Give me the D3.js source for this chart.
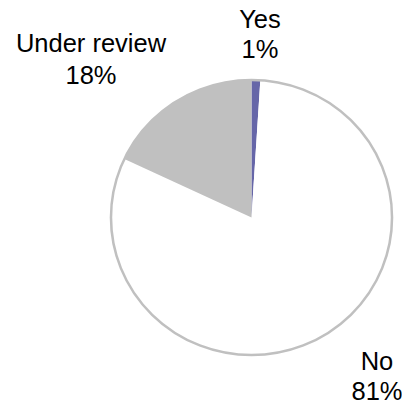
<!DOCTYPE html>
<html>
<head>
<meta charset="utf-8">
<script src="https://cdn.jsdelivr.net/npm/d3@7"></script>
<style>
  html, body { margin: 0; padding: 0; background: #fff; }
  svg { display: block; }
  text { font-family: "Liberation Sans", Arial, sans-serif; fill: #000; }
</style>
</head>
<body>
<svg id="chart" width="402" height="404"></svg>
<script>
// Responses, in drawing order clockwise from 12 o'clock
const categories = ["Yes", "No", "Under review"];
const shares = [1, 81, 18];
const sliceColors = ["#6666a8", "#ffffff", "#c0c0c0"];
const labelText = ["1%", "81%", "18%"];

const W = 402, H = 404;
const cx = 251.5, cy = 217.5, R = 139;

const svg = d3.select("#chart");

const pie = d3.pie().sort(null).value(d => d.v);
const arcs = pie(categories.map((c, i) => ({ c, v: shares[i] })));
const arc = d3.arc().innerRadius(0).outerRadius(R);

const g = svg.append("g")
  .attr("transform", `translate(${cx},${cy}) scale(1.011,0.99)`);

g.selectAll("path.slice")
  .data(arcs)
  .join("path")
  .attr("class", "slice")
  .attr("d", arc)
  .attr("fill", (d, i) => sliceColors[i])
  .attr("stroke", "none");

// outer rim
g.append("circle")
  .attr("r", R)
  .attr("fill", "none")
  .attr("stroke", "#c0c0c0")
  .attr("stroke-width", 2.5);

// category labels placed outside the pie
const labelPos = [
  { x: 260, y1: 28, y2: 58 },
  { x: 377, y1: 370, y2: 400 },
  { x: 91, y1: 52, y2: 84 }
];

const lab = svg.append("g").attr("font-size", 25.5).attr("text-anchor", "middle");
categories.forEach((c, i) => {
  const p = labelPos[i];
  lab.append("text").attr("x", p.x).attr("y", p.y1).text(c);
  lab.append("text").attr("x", p.x).attr("y", p.y2).text(labelText[i]);
});
</script>
</body>
</html>
